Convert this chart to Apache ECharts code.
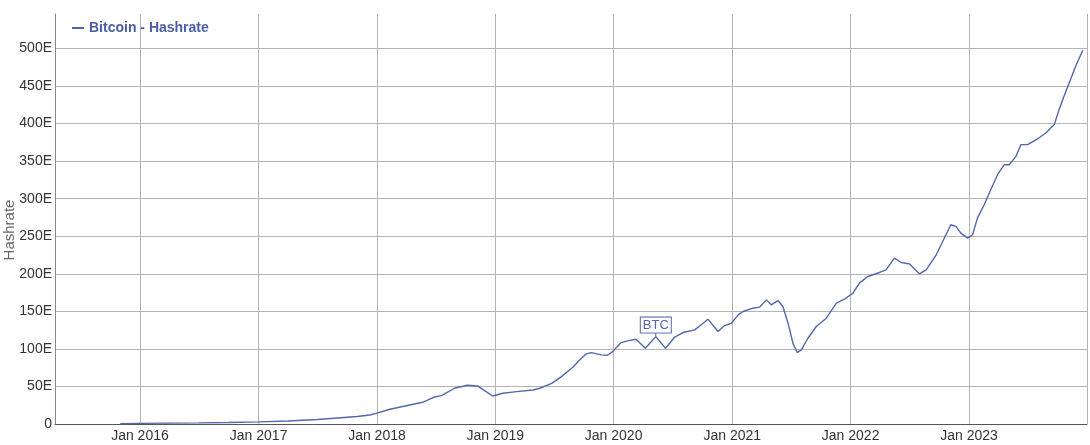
<!DOCTYPE html>
<html>
<head>
<meta charset="utf-8">
<script src="https://cdn.jsdelivr.net/npm/echarts@6/dist/echarts.min.js"></script>
<style>
  html, body { margin: 0; padding: 0; background: #fff; }
  #chart { width: 1090px; height: 445px; }
</style>
</head>
<body>
<div id="chart"></div>
<script>
// dates and hashrate values (EH/s)
const dates = [
  '2015-11-01', '2016-01-01', '2016-04-01', '2016-07-01', '2016-10-01',
  '2017-01-01', '2017-04-01', '2017-07-01', '2017-09-01', '2017-11-01',
  '2017-12-10', '2018-01-01', '2018-02-10', '2018-04-12', '2018-05-22',
  '2018-06-28', '2018-07-19', '2018-08-28', '2018-10-07', '2018-11-07',
  '2018-11-29', '2018-12-24', '2019-01-24', '2019-03-08', '2019-04-27',
  '2019-05-18', '2019-06-24', '2019-07-24', '2019-08-28', '2019-09-18',
  '2019-10-08', '2019-10-24', '2019-11-23', '2019-12-13', '2019-12-29',
  '2020-01-24', '2020-02-13', '2020-03-10', '2020-04-08', '2020-05-10',
  '2020-06-09', '2020-07-07', '2020-08-02', '2020-09-07', '2020-10-03',
  '2020-10-18', '2020-11-18', '2020-12-08', '2020-12-29', '2021-01-19',
  '2021-02-03', '2021-03-05', '2021-03-26', '2021-04-16', '2021-05-01',
  '2021-05-22', '2021-06-06', '2021-06-22', '2021-07-07', '2021-07-20',
  '2021-08-02', '2021-08-22', '2021-09-17', '2021-10-18', '2021-11-18',
  '2021-12-13', '2022-01-08', '2022-01-28', '2022-02-23', '2022-03-31',
  '2022-04-20', '2022-05-16', '2022-06-06', '2022-07-01', '2022-08-01',
  '2022-08-22', '2022-09-22', '2022-10-22', '2022-11-06', '2022-11-22',
  '2022-12-07', '2022-12-28', '2023-01-12', '2023-01-27', '2023-02-17',
  '2023-03-09', '2023-03-30', '2023-04-20', '2023-05-05', '2023-05-26',
  '2023-06-10', '2023-07-01', '2023-07-31', '2023-08-26', '2023-09-21',
  '2023-10-06', '2023-10-21', '2023-11-06', '2023-11-26', '2023-12-18'
]
const hashrate = [
  0.4, 0.8, 1.2, 1.5, 1.9,
  2.8, 4, 6, 8, 10,
  12, 14.5, 19.6, 25.3, 28.9,
  36, 37.8, 47.6, 51.6, 50.7,
  44.4, 37.3, 40.9, 43.1, 45.3,
  47.6, 54.2, 63.1, 75.6, 85.3,
  93.3, 95.1, 92, 91.6, 96.4,
  108.4, 110.7, 112.9, 100.9, 116.4,
  100.9, 115.6, 121.8, 125.3, 134.2,
  139.6, 123.1, 131.1, 134.2, 145.3,
  149.8, 154.2, 155.6, 165.3, 158.7,
  164.4, 156.4, 134.2, 107.6, 95.1,
  98.7, 114.2, 129.8, 140.9, 160.9,
  166.2, 174.2, 187.6, 196.4, 201.8,
  205.3, 220.9, 215.1, 213.3, 200,
  205.3, 225.3, 252, 265.3, 263.1,
  254.2, 247.6, 252, 274.2, 292,
  312, 332, 345.3, 345.3, 356.4,
  372, 372, 379.6, 387.6, 398.7,
  418.7, 436.4, 454.2, 476.4, 497.8
]

// annotation
const flagDate = '2020-05-10'
const flagValue = 116.4
const flagText = 'BTC'

const lineColor = '#5367ab'

const chart = echarts.init(document.getElementById('chart'))
chart.setOption({
  animation: false,
  textStyle: { fontFamily: 'Arial, "Liberation Sans", sans-serif' },
  grid: { left: 55, right: 3, top: 14, bottom: 21, containLabel: false, outerBoundsMode: 'none' },
  legend: {
    left: 67,
    top: 16,
    icon: 'rect',
    itemWidth: 12,
    itemHeight: 2,
    itemGap: 4,
    textStyle: { color: '#4a5fa5', fontWeight: 'bold', fontSize: 14 },
    data: ['Bitcoin - Hashrate']
  },
  xAxis: {
    type: 'time',
    min: '2015-04-14',
    max: '2023-12-31',
    splitNumber: 9,
    minInterval: 365 * 24 * 3600 * 1000,
    axisLine: { lineStyle: { color: '#555', width: 1 } },
    axisTick: { show: false },
    axisLabel: {
      color: '#333',
      fontSize: 14,
      margin: 5,
      hideOverlap: false,
      formatter: function (value) {
        const d = new Date(value)
        if (d.getMonth() === 0 && d.getDate() === 1) return 'Jan ' + d.getFullYear()
        return ''
      }
    },
    splitLine: { show: true, lineStyle: { color: '#b4b4b4', width: 1 } }
  },
  yAxis: {
    type: 'value',
    min: 0,
    max: 546,
    interval: 50,
    name: 'Hashrate',
    nameLocation: 'middle',
    nameGap: 38,
    nameMoveOverlap: false,
    nameTextStyle: { color: '#666', fontSize: 15, padding: [0, 22, 0, 0] },
    axisLine: { show: true, lineStyle: { color: '#888' } },
    axisTick: { show: false },
    axisLabel: {
      color: '#333',
      fontSize: 14,
      margin: 3,
      showMaxLabel: false,
      formatter: function (v) {
        if (v % 50 !== 0) return ''
        return v === 0 ? '0' : v + 'E'
      }
    },
    splitLine: { show: true, showMaxLine: false, lineStyle: { color: '#b4b4b4', width: 1 } }
  },
  series: [
    {
      name: 'Bitcoin - Hashrate',
      type: 'line',
      showSymbol: false,
      data: dates.map((d, i) => [d, hashrate[i]]),
      lineStyle: { color: lineColor, width: 1.4 },
      itemStyle: { color: lineColor },
      markPoint: {
        symbol: 'rect',
        symbolSize: [1, 4],
        symbolOffset: [0, -2],
        itemStyle: { color: lineColor },
        label: {
          show: true,
          position: 'top',
          distance: 0,
          formatter: flagText,
          color: lineColor,
          fontSize: 13,
          lineHeight: 14,
          backgroundColor: '#fff',
          borderColor: lineColor,
          borderWidth: 1,
          padding: [1, 2, 0, 2]
        },
        data: [{ coord: [flagDate, flagValue] }]
      }
    }
  ]
})
</script>
</body>
</html>
